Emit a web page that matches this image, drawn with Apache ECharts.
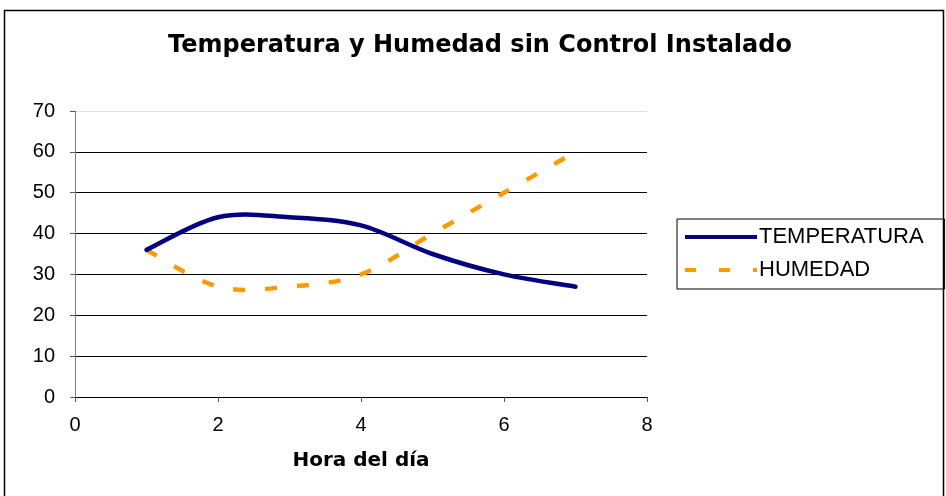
<!DOCTYPE html>
<html>
<head>
<meta charset="utf-8">
<script src="https://cdn.jsdelivr.net/npm/echarts@6/dist/echarts.min.js"></script>
<style>
  html, body { margin: 0; padding: 0; background: #fff; }
  #chart-box { width: 946px; height: 496px; }
</style>
</head>
<body>
<div id="chart-box"></div>
<script>
// hora del día
var horas = [1, 2, 3, 4, 5, 6, 7];
var temperatura = [36, 44, 44, 42, 35, 30, 27];
var humedad = [36, 27, 27, 30, 40, 50, 60];
var xTicks = [0, 2, 4, 6, 8];
var yTicks = [0, 10, 20, 30, 40, 50, 60, 70];

var fontFam = '"Liberation Sans", Arial, sans-serif';
var fontBold = '"DejaVu Sans", sans-serif';

function pares(xs, ys) {
  return xs.map(function (x, i) { return [x, ys[i]]; });
}

// curva suavizada tipo Excel (Catmull-Rom -> Bezier), puntos via api.coord
function curvaSuave(estilo) {
  return function (params, api) {
    if (params.dataIndexInside !== 0) return null;
    var n = params.dataInsideLength;
    var pts = [];
    for (var i = 0; i < n; i++) {
      pts.push(api.coord([api.value(0, i), api.value(1, i)]));
    }
    var d = 'M' + pts[0][0] + ',' + pts[0][1];
    for (var k = 0; k < n - 1; k++) {
      var p0 = pts[Math.max(k - 1, 0)], p1 = pts[k], p2 = pts[k + 1], p3 = pts[Math.min(k + 2, n - 1)];
      var c1x = p1[0] + (p2[0] - p0[0]) / 6, c1y = p1[1] + (p2[1] - p0[1]) / 6;
      var c2x = p2[0] - (p3[0] - p1[0]) / 6, c2y = p2[1] - (p3[1] - p1[1]) / 6;
      d += 'C' + c1x + ',' + c1y + ' ' + c2x + ',' + c2y + ' ' + p2[0] + ',' + p2[1];
    }
    return {
      type: 'path',
      shape: { pathData: d },
      style: estilo
    };
  };
}

var chartObj = echarts.init(document.getElementById('chart-box'));
var option = {
  animation: false,
  title: {
    text: 'Temperatura y Humedad sin Control Instalado',
    left: 475,
    textAlign: 'center',
    top: 29,
    textStyle: { fontFamily: fontBold, fontSize: 24, fontWeight: 'bold', color: '#000' }
  },
  graphic: [{
    type: 'rect',
    shape: { x: 4.5, y: 10.5, width: 939, height: 490 },
    style: { fill: 'none', stroke: '#000', lineWidth: 1.5 },
    z: -1
  }],
  legend: {
    orient: 'vertical',
    left: 677,
    top: 219,
    width: 267,
    padding: [7, 21, 8, 8],
    itemGap: 11,
    itemWidth: 72,
    itemHeight: 4,
    borderColor: '#000',
    borderWidth: 1,
    textStyle: { fontFamily: fontFam, fontSize: 22, color: '#000', padding: [0, 0, 0, -3] },
    data: [
      { name: 'TEMPERATURA', icon: 'path://M0,0h72v4h-72z', itemStyle: { color: '#000080' } },
      { name: 'HUMEDAD', icon: 'path://M0,0h11v4h-11zM34,0h11v4h-11zM68,0h4v4h-4z', itemStyle: { color: '#FF9900' } }
    ]
  },
  grid: { left: 75, right: 299, top: 111, bottom: 99 },
  xAxis: {
    type: 'value',
    min: 0, max: 8, interval: 2,
    name: 'Hora del día',
    nameLocation: 'middle',
    nameGap: 54,
    nameTextStyle: { fontFamily: fontBold, fontSize: 20, fontWeight: 'bold', color: '#000' },
    axisLine: { show: true, lineStyle: { color: '#000', width: 1 } },
    axisTick: { show: true, length: 5, lineStyle: { color: '#555' } },
    axisLabel: {
      fontFamily: fontFam, fontSize: 20, color: '#000', margin: 18,
      formatter: function (v) { return xTicks.indexOf(v) >= 0 ? String(v) : ''; }
    },
    splitLine: { show: false }
  },
  yAxis: {
    type: 'value',
    min: 0, max: 70, interval: 10,
    axisLine: { show: true, lineStyle: { color: '#808080', width: 1 } },
    axisTick: { show: true, length: 5, lineStyle: { color: '#555' } },
    axisLabel: {
      fontFamily: fontFam, fontSize: 20, color: '#000', margin: 20,
      formatter: function (v) { return yTicks.indexOf(v) >= 0 ? String(v) : ''; }
    },
    splitLine: {
      show: true,
      lineStyle: { color: ['#000', '#000', '#000', '#000', '#000', '#000', '#000', '#e0e0e0'], width: 1 }
    }
  },
  series: [
    {
      name: 'TEMPERATURA',
      type: 'custom',
      data: pares(horas, temperatura),
      encode: { x: 0, y: 1 },
      itemStyle: { color: '#000080' },
      renderItem: curvaSuave({ fill: 'none', stroke: '#000080', lineWidth: 4.5, lineCap: 'round', lineJoin: 'round' }),
      z: 3
    },
    {
      name: 'HUMEDAD',
      type: 'custom',
      data: pares(horas, humedad),
      encode: { x: 0, y: 1 },
      itemStyle: { color: '#FF9900' },
      renderItem: curvaSuave({ fill: 'none', stroke: '#FF9900', lineWidth: 4.5, lineDash: [12, 20], lineCap: 'butt' }),
      z: 2
    }
  ]
};
chartObj.setOption(option);
</script>
</body>
</html>
